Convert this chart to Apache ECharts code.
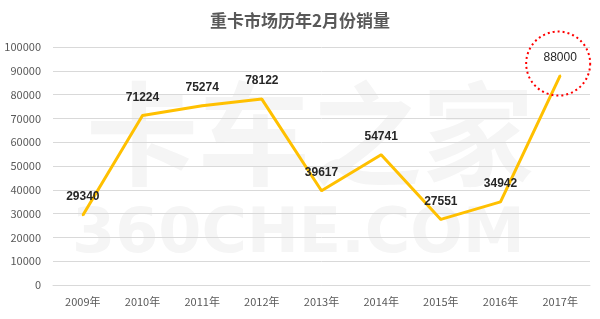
<!DOCTYPE html>
<html><head><meta charset="utf-8">
<script src="https://cdn.jsdelivr.net/npm/echarts@6/dist/echarts.min.js"></script>
<style>html,body{margin:0;padding:0;background:#fff}#c{width:600px;height:319px}</style>
</head><body><div id="c"></div>
<script>
const categories = ['2009年','2010年','2011年','2012年','2013年','2014年','2015年','2016年','2017年'];
const sales = [29340, 71224, 75274, 78122, 39617, 54741, 27551, 34942, 88000];
const yTicks = {min: 0, max: 100000, interval: 10000};
const titleText = '重卡市场历年2月份销量';

const chart = echarts.init(document.getElementById('c'));
const font = '"Microsoft YaHei","Noto Sans CJK SC",sans-serif';
chart.setOption({
  animation: false,
  title: {text: titleText, left: 'center', top: 7,
    textStyle: {fontSize: 17, fontWeight: 'bold', color: '#595959', fontFamily: font}},
  graphic: [
    {type: 'text', left: 86, top: 78, z: -1, silent: true,
     style: {text: '卡车之家', fontSize: 112, fontWeight: 'bold', fill: '#f5f5f5', fontFamily: font}},
    {type: 'text', left: 72, top: 205, z: -1, silent: true,
     style: {text: '360CHE.COM', fontSize: 62, fontWeight: 'bold', fill: '#f5f5f5', fontFamily: 'DejaVu Sans'}}
  ],
  grid: {left: 53, right: 10, top: 47, bottom: 34},
  xAxis: {type: 'category', data: categories, boundaryGap: true,
    axisLine: {show: true, lineStyle: {color: '#d9d9d9'}}, axisTick: {show: false},
    axisLabel: {color: '#595959', fontSize: 11, margin: 11, fontFamily: font}},
  yAxis: {type: 'value', min: yTicks.min, max: yTicks.max, interval: yTicks.interval,
    axisLine: {show: false}, axisTick: {show: false},
    splitLine: {lineStyle: {color: '#d9d9d9'}},
    axisLabel: {color: '#595959', fontSize: 11, margin: 12, fontFamily: font, formatter: v => String(v)}},
  series: [{
    type: 'line', data: sales, showSymbol: true, symbol: 'circle', symbolSize: 2,
    lineStyle: {color: '#FFC000', width: 3}, itemStyle: {color: '#FFC000', borderWidth: 0},
    label: {show: true, position: 'top', distance: 11, fontSize: 12, fontWeight: 'bold',
      color: '#262626', fontFamily: '"Liberation Sans", Arial, sans-serif',
      formatter: p => p.dataIndex === sales.length - 1 ? '{n|' + p.value + '}' : String(p.value),
      rich: {n: {fontWeight: 'normal', fontSize: 12, color: '#262626', fontFamily: '"Liberation Sans", Arial, sans-serif'}}},
    markPoint: {
      symbol: 'circle', symbolSize: 64, symbolOffset: [-2, -12], silent: true,
      label: {show: false},
      itemStyle: {color: 'rgba(0,0,0,0)', borderColor: '#ff0000', borderWidth: 2, borderType: [2, 3]},
      data: [{coord: [categories.length - 1, sales[sales.length - 1]]}]
    }
  }]
});
</script></body></html>
